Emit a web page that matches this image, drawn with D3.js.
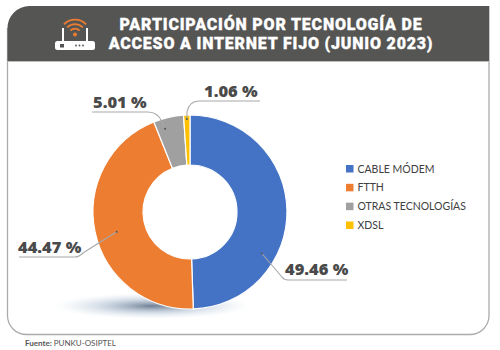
<!DOCTYPE html>
<html lang="es">
<head>
<meta charset="UTF-8">
<title>Participación por tecnología</title>
<script src="https://d3js.org/d3.v7.min.js"></script>
<style>
html,body{margin:0;padding:0;background:#fff;}
svg{display:block;}
.title{font-family:"Roboto";font-weight:900;font-size:16px;letter-spacing:.8px;fill:#fff;stroke:#fff;stroke-width:.3px;text-anchor:middle;}
.pct{font-family:"Open Sans";font-weight:800;font-size:16.5px;fill:#4a4a4a;}
.legendTxt{font-family:"Lato";font-size:10.5px;fill:#404040;}
.source{font-family:"Lato";font-size:8px;fill:#555;}
</style>
</head>
<body>
<script>
var categories = ["CABLE MÓDEM", "FTTH", "OTRAS TECNOLOGÍAS", "XDSL"];
var values = [49.46, 44.47, 5.01, 1.06];
var colors = ["#4472c4", "#ed7d31", "#a0a0a0", "#ffc000"];
var labels = ["49.46 %", "44.47 %", "5.01 %", "1.06 %"];
var titleLines = ["PARTICIPACIÓN POR TECNOLOGÍA DE", "ACCESO A INTERNET FIJO (JUNIO 2023)"];

var width = 500, height = 350;
var cx = 190, cy = 212, outer = 97, inner = 47;

var svg = d3.select("body").append("svg")
    .attr("width", width)
    .attr("height", height);

var defs = svg.append("defs");
var shadow = defs.append("radialGradient").attr("id", "shadow");
shadow.append("stop").attr("offset", "0%").attr("stop-color", "#3f5570").attr("stop-opacity", 0.75);
shadow.append("stop").attr("offset", "50%").attr("stop-color", "#8aa2bc").attr("stop-opacity", 0.4);
shadow.append("stop").attr("offset", "100%").attr("stop-color", "#c5d5e5").attr("stop-opacity", 0);

// tarjeta
var x0 = 7.5, x1 = 489, y0 = 6, y1 = 334.5, yh = 61, r0 = 22, r1 = 19;
svg.append("path")
    .attr("d", "M" + x0 + "," + (y0 + r0) + "V" + (y1 - r1) +
        "A" + r1 + "," + r1 + " 0 0 0 " + (x0 + r1) + "," + y1 +
        "H" + (x1 - r1) + "A" + r1 + "," + r1 + " 0 0 0 " + x1 + "," + (y1 - r1) +
        "V" + y0)
    .attr("fill", "#fff")
    .attr("stroke", "#ababab")
    .attr("stroke-width", 1.3);
svg.append("path")
    .attr("d", "M" + x0 + "," + yh + "V" + (y0 + r0) +
        "A" + r0 + "," + r0 + " 0 0 1 " + (x0 + r0) + "," + y0 +
        "H" + x1 + "V" + yh + "Z")
    .attr("fill", "#555554");
svg.append("line")
    .attr("x1", x0).attr("x2", x1).attr("y1", yh + 0.5).attr("y2", yh + 0.5)
    .attr("stroke", "#bdbdbd").attr("stroke-width", 1.2);

var title = svg.append("text").attr("class", "title");
title.selectAll("tspan").data(titleLines).enter().append("tspan")
    .attr("x", 271)
    .attr("y", function(d, i) { return 30 + i * 19; })
    .text(function(d) { return d; });

// icono router
var icon = svg.append("g");
icon.append("rect").attr("x", 55).attr("y", 41).attr("width", 40).attr("height", 9).attr("rx", 2.5).attr("fill", "#fff");
icon.append("rect").attr("x", 62).attr("y", 28).attr("width", 2).attr("height", 14).attr("fill", "#fff");
icon.append("rect").attr("x", 86).attr("y", 28).attr("width", 2).attr("height", 14).attr("fill", "#fff");
icon.append("rect").attr("x", 60).attr("y", 44).attr("width", 4).attr("height", 3.5).attr("fill", "#555554");
[76, 79.5, 83].forEach(function(x) {
    icon.append("circle").attr("cx", x).attr("cy", 45.5).attr("r", 0.9).attr("fill", "#555554");
});
[5.5, 10, 14.5].forEach(function(r) {
    icon.append("path")
        .attr("d", d3.arc().innerRadius(r).outerRadius(r + 1.8).startAngle(-0.8).endAngle(0.8)())
        .attr("transform", "translate(75,35)")
        .attr("fill", "#ed7d31");
});
icon.append("circle").attr("cx", 75).attr("cy", 34.5).attr("r", 2).attr("fill", "#ed7d31");

// sombra
svg.append("ellipse")
    .attr("cx", 152).attr("cy", 306).attr("rx", 98).attr("ry", 13)
    .attr("fill", "url(#shadow)");

// dona
var pie = d3.pie().sort(null)(values);
var arc = d3.arc().innerRadius(inner).outerRadius(outer);
svg.append("g")
    .attr("transform", "translate(" + cx + "," + cy + ")")
    .selectAll("path").data(pie).enter().append("path")
    .attr("d", arc)
    .attr("fill", function(d, i) { return colors[i]; })
    .attr("stroke", "#fff")
    .attr("stroke-width", 1.2);

// lineas guia: salen de su porcion (f = fraccion dentro de la porcion), hacen curva y siguen bajo el texto
var labelSpots = [
    {f: 0.674, r: 83, bend: "L282,277Q284,280 288,280H347", tx: 285, ty: 275},
    {f: 0.48, r: 76, bend: "L83,253Q79,257 75,257H19", tx: 18, ty: 253},
    {f: 0.29, r: 87, bend: "L162,122Q158,112 148,112H92", tx: 93, ty: 108},
    {f: 0.5, r: 93, bend: "L187,112Q189,101 199,101H260", tx: 204, ty: 97}
];
var guides = svg.append("g").selectAll("g").data(pie).enter().append("g");
guides.each(function(d, i) {
    var s = labelSpots[i];
    var a = d.startAngle + s.f * (d.endAngle - d.startAngle);
    var p = d3.pointRadial(a, s.r);
    var dot = [cx + p[0], cy + p[1]];
    var g = d3.select(this);
    g.append("path")
        .attr("d", "M" + dot + s.bend)
        .attr("fill", "none")
        .attr("stroke", "#a8a8a8")
        .attr("stroke-width", 1.1);
    g.append("circle").attr("cx", dot[0]).attr("cy", dot[1]).attr("r", 1).attr("fill", "#555");
    g.append("text").attr("class", "pct").attr("x", s.tx).attr("y", s.ty).text(labels[i]);
});

// leyenda
var yLegend = d3.scalePoint().domain(categories).range([168.5, 225]);
var legend = svg.append("g").selectAll("g").data(categories).enter().append("g")
    .attr("transform", function(d) { return "translate(346," + yLegend(d) + ")"; });
legend.append("rect")
    .attr("y", -3.5).attr("width", 7.5).attr("height", 7.5)
    .attr("fill", function(d, i) { return colors[i]; });
legend.append("text")
    .attr("class", "legendTxt")
    .attr("x", 11.5).attr("y", 4)
    .text(function(d) { return d; });

var src = svg.append("text").attr("class", "source").attr("x", 25).attr("y", 345.5);
src.append("tspan").attr("font-weight", 700).text("Fuente: ");
src.append("tspan").text("PUNKU-OSIPTEL");
</script>
</body>
</html>
